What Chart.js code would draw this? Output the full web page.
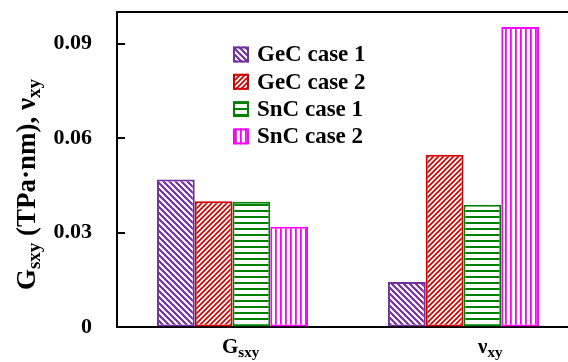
<!DOCTYPE html>
<html>
<head>
<meta charset="utf-8">
<script src="https://cdn.jsdelivr.net/npm/chart.js@4.4.1/dist/chart.umd.min.js"></script>
<style>
  html, body { margin: 0; padding: 0; background: #fff; overflow: hidden; width: 568px; height: 362px; }
  #wrap { position: absolute; left: 0; top: 0; width: 590px; height: 362px; }
</style>
</head>
<body>
<div id="wrap"><canvas id="c" width="590" height="362"></canvas></div>
<script>
// ---- data ----
const categories = ["Gsxy", "νxy"];
const categoryMain = ["G", "ν"];
const categorySub = ["sxy", "xy"];
const seriesNames = ["GeC case 1", "GeC case 2", "SnC case 1", "SnC case 2"];
const gecCase1 = [0.0468, 0.0143];
const gecCase2 = [0.0399, 0.0547];
const sncCase1 = [0.0398, 0.0388];
const sncCase2 = [0.0318, 0.0952];
const yTickValues = [0, 0.03, 0.06, 0.09];
const yTickLabels = ["0", "0.03", "0.06", "0.09"];
const yTitleParts = [["G", false], ["sxy", true], [" (TPa·nm), ν", false], ["xy", true]];

// ---- styles ----
const colors = ["#7030A0", "#D00000", "#008000", "#FF00FF"];
const FONT = "'Liberation Serif', 'Times New Roman', serif";

function makePattern(kind, color) {
  const c = document.createElement('canvas');
  const ctx = c.getContext('2d');
  let s;
  if (kind === 'back') { s = 6; } else if (kind === 'fwd') { s = 5; } else if (kind === 'h') { s = 6; } else { s = 5; }
  c.width = s; c.height = s;
  ctx.fillStyle = '#fff'; ctx.fillRect(0, 0, s, s);
  ctx.strokeStyle = color;
  if (kind === 'back') {
    ctx.lineWidth = 2.2;
    ctx.beginPath();
    ctx.moveTo(-1, -1); ctx.lineTo(s + 1, s + 1);
    ctx.moveTo(-1, s - 1); ctx.lineTo(1, s + 1);
    ctx.moveTo(s - 1, -1); ctx.lineTo(s + 1, 1);
    ctx.stroke();
  } else if (kind === 'fwd') {
    ctx.lineWidth = 1.7;
    ctx.beginPath();
    ctx.moveTo(-1, s + 1); ctx.lineTo(s + 1, -1);
    ctx.moveTo(-1, 1); ctx.lineTo(1, -1);
    ctx.moveTo(s - 1, s + 1); ctx.lineTo(s + 1, s - 1);
    ctx.stroke();
  } else if (kind === 'h') {
    ctx.fillStyle = color;
    ctx.fillRect(0, 0, s, 2);
  } else {
    ctx.fillStyle = color;
    ctx.fillRect(0, 0, 1.8, s);
  }
  return ctx.createPattern(c, 'repeat');
}
const patternKinds = ['back', 'fwd', 'h', 'v'];
const patterns = colors.map((col, i) => makePattern(patternKinds[i], col));
const seriesValues = [gecCase1, gecCase2, sncCase1, sncCase2];

// layout constants (not data)
const xLabelStart = [-10.5, 14.5];
const legendPos = { x: 233, y: 54.5, dy: 27.3, box: 16, textX: 257 };

const customPlugin = {
  id: 'custom',
  afterDraw(chart) {
    const ctx = chart.ctx;
    const area = chart.chartArea;
    const ys = chart.scales.y, xs = chart.scales.x;
    ctx.save();
    // top frame line
    ctx.strokeStyle = '#000'; ctx.lineWidth = 2;
    ctx.beginPath(); ctx.moveTo(area.left - 1, area.top); ctx.lineTo(area.right + 20, area.top); ctx.stroke();
    // inward ticks
    yTickValues.forEach(v => {
      if (v === 0) return;
      const py = Math.round(ys.getPixelForValue(v));
      ctx.beginPath(); ctx.moveTo(area.left, py); ctx.lineTo(area.left + 8, py); ctx.stroke();
    });
    // x labels with subscripts
    ctx.fillStyle = '#000';
    ctx.textBaseline = 'alphabetic'; ctx.textAlign = 'left';
    categories.forEach((c, i) => {
      const px = xs.getPixelForTick(i) + xLabelStart[i];
      ctx.font = 'bold 21px ' + FONT;
      ctx.fillText(categoryMain[i], px, 353);
      const w = ctx.measureText(categoryMain[i]).width;
      ctx.font = 'bold 15px ' + FONT;
      ctx.fillText(categorySub[i], px + w, 357);
    });
    // y title rotated
    ctx.save();
    ctx.translate(35, 0);
    ctx.rotate(-Math.PI / 2);
    let total = 0;
    yTitleParts.forEach(([t, sub]) => {
      ctx.font = 'bold ' + (sub ? 19 : 27) + 'px ' + FONT;
      total += ctx.measureText(t).width;
    });
    let cx = -184.5 - total / 2;
    yTitleParts.forEach(([t, sub]) => {
      ctx.font = 'bold ' + (sub ? 19 : 27) + 'px ' + FONT;
      ctx.fillText(t, cx, sub ? 5 : 0);
      cx += ctx.measureText(t).width;
    });
    ctx.restore();
    // legend
    chart.data.datasets.forEach((ds, i) => {
      const cy = legendPos.y + i * legendPos.dy;
      const b = legendPos.box;
      ctx.fillStyle = ds.backgroundColor;
      ctx.fillRect(legendPos.x, cy - b / 2, b, b);
      ctx.strokeStyle = ds.borderColor; ctx.lineWidth = 2;
      ctx.strokeRect(legendPos.x + 1, cy - b / 2 + 1, b - 2, b - 2);
      ctx.fillStyle = '#000';
      ctx.font = 'bold 23px ' + FONT;
      ctx.textBaseline = 'middle';
      ctx.fillText(ds.label, legendPos.textX, cy + 1);
    });
    ctx.restore();
  }
};

new Chart(document.getElementById('c'), {
  type: 'bar',
  data: {
    labels: categories,
    datasets: seriesNames.map((name, i) => ({
      label: name,
      data: seriesValues[i],
      backgroundColor: patterns[i],
      borderColor: colors[i],
      borderWidth: 2,
      borderSkipped: false,
      categoryPercentage: 0.654,
      barPercentage: 1.0
    }))
  },
  options: {
    responsive: false,
    animation: false,
    devicePixelRatio: 1,
    layout: { padding: { top: 12, right: 11, left: 0, bottom: 0 } },
    plugins: { legend: { display: false }, tooltip: { enabled: false } },
    scales: {
      x: {
        grid: { display: false },
        border: { display: true, color: '#000', width: 2 },
        ticks: { display: false },
        afterFit(s) { s.height = 35; s.paddingLeft = 0; s.paddingRight = 0; }
      },
      y: {
        min: 0, max: 0.1,
        grid: { display: true, drawOnChartArea: false, drawTicks: true, tickLength: 22, tickColor: 'rgba(0,0,0,0)' },
        border: { display: true, color: '#000', width: 2 },
        afterBuildTicks(s) { s.ticks = yTickValues.map(v => ({ value: v })); },
        ticks: {
          color: '#000',
          padding: 3,
          font: { family: FONT, size: 22, weight: 'bold' },
          callback(v) { const k = yTickValues.indexOf(v); return k >= 0 ? yTickLabels[k] : ''; }
        },
        afterFit(s) { s.width = 117; s.paddingTop = 0; s.paddingBottom = 0; }
      }
    }
  },
  plugins: [customPlugin]
});
</script>
</body>
</html>
